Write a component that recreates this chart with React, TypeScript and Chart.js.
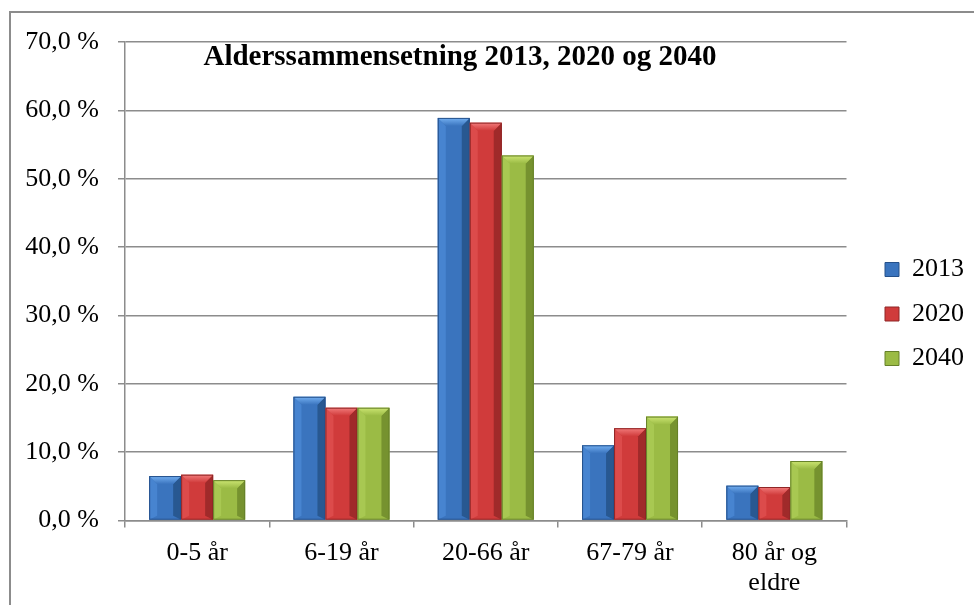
import React, { useEffect, useRef } from "react";
import { Chart, registerables } from "chart.js";

Chart.register(...registerables);

const categories: (string | string[])[] = ["0-5 år", "6-19 år", "20-66 år", "67-79 år", ["80 år og", "eldre"]];
const seriesNames = ["2013", "2020", "2040"];
const values2013 = [6.5, 18.1, 58.9, 11.0, 5.1];
const values2020 = [6.7, 16.5, 58.2, 13.5, 4.9];
const values2040 = [5.9, 16.5, 53.4, 15.2, 8.7];
const yTickMax = 70;
const yTickStep = 10;
const titleText = "Alderssammensetning 2013, 2020 og 2040";

const palettes = [
  { base: "#3a74be", light: "#74b0f2", left: "#4784d0", right: "#285891", edge: "#24508a" },
  { base: "#d03b3b", light: "#f27c7c", left: "#dc4b4b", right: "#a02a2a", edge: "#8f2626" },
  { base: "#9bbb45", light: "#cde673", left: "#a8c852", right: "#76922f", edge: "#66802a" },
];

const FONT = "'Liberation Serif', 'Times New Roman', serif";
const GRID = "#8c8c8c";

const bevelPlugin = {
  id: "bevel",
  afterDatasetsDraw(chart: any) {
    const ctx = chart.ctx as CanvasRenderingContext2D;
    chart.data.datasets.forEach((_ds: any, di: number) => {
      const meta = chart.getDatasetMeta(di);
      const pal = palettes[di];
      meta.data.forEach((bar: any) => {
        const p = bar.getProps(["x", "y", "base", "width"], true);
        const left = p.x - p.width / 2;
        const right = p.x + p.width / 2;
        const top = Math.min(p.y, p.base);
        const bottom = Math.max(p.y, p.base);
        const h = bottom - top;
        const b = Math.min(8, h / 2);
        ctx.save();
        ctx.beginPath();
        ctx.moveTo(left, top);
        ctx.lineTo(left + b, top + b);
        ctx.lineTo(left + b, bottom - b * 0.5);
        ctx.lineTo(left, bottom);
        ctx.closePath();
        ctx.fillStyle = pal.left;
        ctx.fill();
        ctx.beginPath();
        ctx.moveTo(right, top);
        ctx.lineTo(right - b, top + b);
        ctx.lineTo(right - b, bottom - b * 0.5);
        ctx.lineTo(right, bottom);
        ctx.closePath();
        ctx.fillStyle = pal.right;
        ctx.fill();
        ctx.beginPath();
        ctx.moveTo(left, top);
        ctx.lineTo(right, top);
        ctx.lineTo(right - b, top + b);
        ctx.lineTo(left + b, top + b);
        ctx.closePath();
        const g = ctx.createLinearGradient(0, top, 0, top + b);
        g.addColorStop(0, pal.light);
        g.addColorStop(1, pal.base);
        ctx.fillStyle = g;
        ctx.fill();
        ctx.strokeStyle = pal.edge;
        ctx.lineWidth = 1;
        ctx.strokeRect(left + 0.5, top + 0.5, p.width - 1, h - 1);
        ctx.restore();
      });
    });
  },
};

const titlePlugin = {
  id: "innerTitle",
  afterDraw(chart: any) {
    const ctx = chart.ctx as CanvasRenderingContext2D;
    const area = chart.chartArea;
    ctx.save();
    ctx.font = `bold 29px ${FONT}`;
    ctx.fillStyle = "#000";
    ctx.textAlign = "center";
    ctx.textBaseline = "alphabetic";
    ctx.fillText(titleText, area.left + 335, area.top + 23);
    ctx.restore();
  },
};

export default function App() {
  const ref = useRef<HTMLCanvasElement | null>(null);
  useEffect(() => {
    if (!ref.current) return;
    const data = [values2013, values2020, values2040];
    const chart = new Chart(ref.current, {
      type: "bar",
      data: {
        labels: categories as any,
        datasets: data.map((vals, i) => ({
          label: seriesNames[i],
          data: vals,
          backgroundColor: palettes[i].base,
          borderWidth: 0,
          categoryPercentage: 0.665,
          barPercentage: 1,
        })),
      },
      options: {
        animation: false,
        responsive: false,
        devicePixelRatio: 1,
        layout: { padding: { left: 0, top: 42, right: 0, bottom: 5.5 } },
        plugins: {
          title: { display: false },
          tooltip: { enabled: false },
          legend: {
            position: "right",
            fullSize: false,
            align: "start",
            title: {
              display: true,
              text: "",
              font: { size: 10, lineHeight: 1 },
              padding: { top: 0, bottom: 186 },
            },
            labels: {
              boxWidth: 14,
              boxHeight: 14,
              padding: 18.5,
              color: "#000",
              font: { family: FONT, size: 26 },
              generateLabels: (c: any) =>
                c.data.datasets.map((ds: any, i: number) => ({
                  text: ds.label,
                  fillStyle: palettes[i].base,
                  strokeStyle: palettes[i].edge,
                  fontColor: "#000",
                  lineWidth: 1,
                  hidden: false,
                  datasetIndex: i,
                })),
            },
          },
        },
        scales: {
          x: {
            grid: {
              drawOnChartArea: false,
              drawTicks: true,
              tickLength: 7,
              offset: true,
              color: GRID,
              lineWidth: 1.5,
            },
            border: { display: true, color: GRID, width: 1.5 },
            ticks: {
              color: "#000",
              padding: 11,
              maxRotation: 0,
              autoSkip: false,
              font: { family: FONT, size: 26, lineHeight: 1.154 },
            },
          },
          y: {
            min: 0,
            max: yTickMax,
            grid: { color: GRID, lineWidth: 1.5, tickLength: 7 },
            border: { display: true, color: GRID, width: 1.5 },
            ticks: {
              stepSize: yTickStep,
              color: "#000",
              padding: 19,
              font: { family: FONT, size: 26 },
              callback: (v: any) => Number(v).toFixed(1).replace(".", ",") + " %",
            },
            afterFit: (s: any) => {
              s.width = 125;
            },
          },
          spacer: {
            type: "linear",
            position: "right",
            display: true,
            grid: { display: false, drawTicks: false },
            border: { display: false },
            ticks: { display: false },
            afterFit: (s: any) => {
              s.width = 20;
            },
          },
        },
      } as any,
      plugins: [bevelPlugin, titlePlugin],
    });
    return () => chart.destroy();
  }, []);

  return (
    <div style={{ position: "fixed", left: 0, top: 0, width: 974, height: 605, overflow: "hidden", background: "#fff" }}>
      <div
        style={{
          position: "absolute",
          left: 9,
          top: 11,
          width: 1100,
          height: 800,
          borderLeft: `2px solid ${GRID}`,
          borderTop: `2px solid ${GRID}`,
        }}
      />
      <canvas ref={ref} width={974} height={615} style={{ position: "absolute", left: 0, top: 0, width: 974, height: 615 }} />
    </div>
  );
}
